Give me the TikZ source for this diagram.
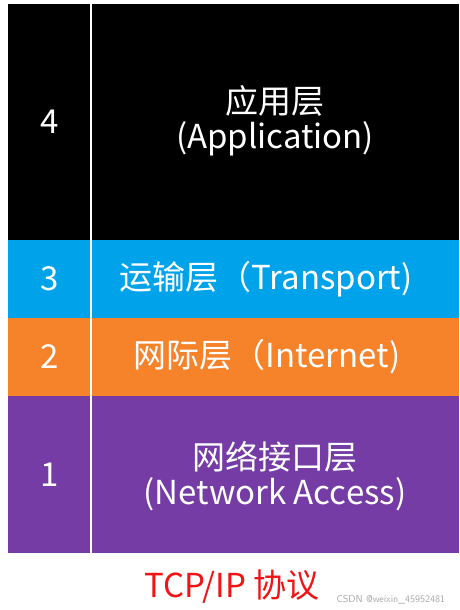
\documentclass[tikz,border=0pt]{standalone}
\usepackage{fontspec}
\newfontfamily\cjk{Noto Sans CJK SC}
\usepackage{tikz}
\usetikzlibrary{positioning}
\definecolor{capablau}{RGB}{0,163,233}
\definecolor{capataronja}{RGB}{246,130,42}
\definecolor{capalila}{RGB}{116,60,164}
\definecolor{titolvermell}{RGB}{240,20,20}
\tikzset{capa/.style={rectangle, inner sep=0pt, minimum width=451pt, anchor=north west},
  text_capa/.style={text=white, font=\cjk\fontsize{33}{35}\selectfont, align=center},
  num_capa/.style={text=white, font=\cjk\fontsize{33}{35}\selectfont}}

\begin{document}
\begin{tikzpicture}[x=1pt, y=-1pt]
            \useasboundingbox (0,0) rectangle (459,610);
            \node[capa, fill=black, minimum height=236pt] (capa4) at (8,4) {};
            \node[capa, fill=capablau, minimum height=78pt] (capa3) at (8,240) {};
            \node[capa, fill=capataronja, minimum height=78pt] (capa2) at (8,318) {};
            \node[capa, fill=capalila, minimum height=157pt] (capa1) at (8,396) {};
            \coordinate (divisor_dalt) at (91,4);
            \coordinate (divisor_baix) at (91,553);
            \draw[white, line width=1.5pt] (divisor_dalt) -- (divisor_baix);
            \node[num_capa] (num4) at (50,122) {4};
            \node[num_capa] (num3) at (50,279) {3};
            \node[num_capa] (num2) at (50,357) {2};
            \node[num_capa] (num1) at (50,475) {1};
            \node[text_capa] (aplicacio) at (275,121) {应用层\\(Application)};
            \node[text_capa] (transport) at (266,279) {运输层（Transport)};
            \node[text_capa] (internet) at (267,357) {网际层（Internet)};
            \node[text_capa] (acces_xarxa) at (275,476) {网络接口层\\(Network Access)};
            \node[text=titolvermell, font=\cjk\fontsize{33}{36}\selectfont] (titol) at (232,587) {TCP/IP 协议};
            \node[text=gray!70, font=\fontsize{10}{12}\selectfont\sffamily, right=10pt of titol.south east, anchor=south west] (marca) {CSDN @weixin\_45952481};
      \end{tikzpicture}
\end{document}
